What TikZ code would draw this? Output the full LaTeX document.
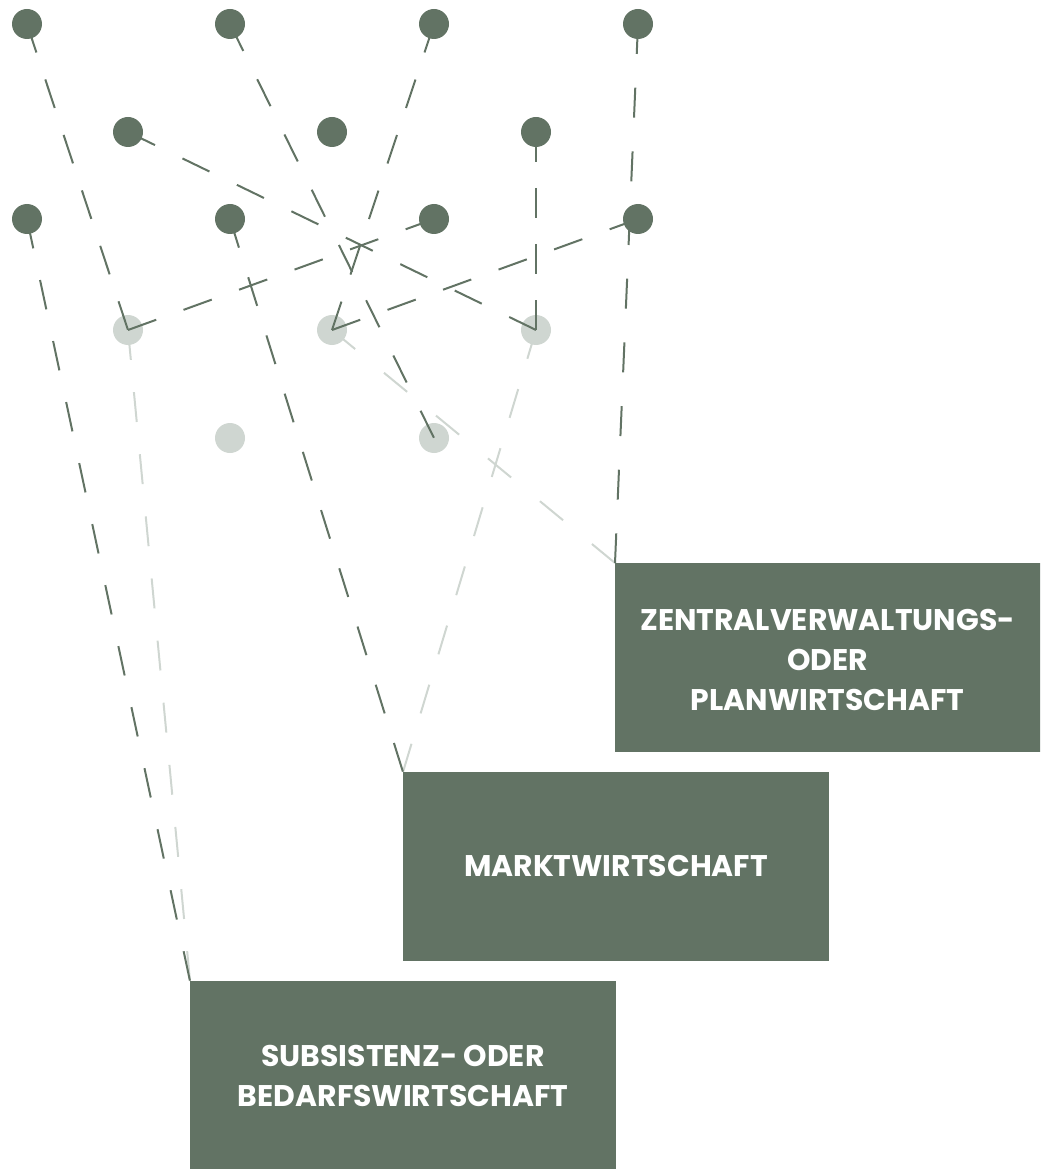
\documentclass[tikz,border=0pt]{standalone}
\usepackage{fontspec}
\setmainfont{Poppins}
\pgfdeclarelayer{lowest}
\pgfdeclarelayer{lines}
\pgfsetlayers{lowest,lines,main}
\definecolor{sage}{HTML}{627364}
\definecolor{mist}{HTML}{CFD6D1}
\tikzset{
  dot/.style={circle, fill=sage, inner sep=0pt, minimum size=22.5pt},
  faintdot/.style={circle, fill=mist, inner sep=0pt, minimum size=22.5pt},
  % dashes are 22.5pt long; the gap (in pt) is chosen per line so that
  % every line starts and ends on a full dash
  link/.style={draw=sage, line width=1.5pt, dash pattern=on 22.5pt off #1},
  faintlink/.style={draw=mist, line width=1.5pt, dash pattern=on 22.5pt off #1},
  panel/.style={fill=sage, inner sep=0pt, anchor=north west,
    minimum width=319pt, minimum height=141.75pt},
  caption/.style={text=white, inner sep=0pt, align=center,
    font=\fontsize{22.4}{30}\selectfont\bfseries}
}
\begin{document}
\begin{tikzpicture}[x=0.75pt, y=-0.75pt]
\useasboundingbox (0,0) rectangle (1040,1169);
\clip (0,0) rectangle (1040,1169);

% dark dots: rows 1 to 3
\node[dot] (a1) at (27,24) {};
\node[dot] (a2) at (230,24) {};
\node[dot] (a3) at (434,24) {};
\node[dot] (a4) at (638,24) {};
\node[dot] (b1) at (128,132) {};
\node[dot] (b2) at (332,132) {};
\node[dot] (b3) at (536,132) {};
\node[dot] (c1) at (27,219) {};
\node[dot] (c2) at (230,219) {};
\node[dot] (c3) at (434,219) {};
\node[dot] (c4) at (638,219) {};

% pale dots: rows 4 and 5
\begin{pgfonlayer}{lowest}
\node[faintdot] (d1) at (128,330) {};
\node[faintdot] (d2) at (332,330) {};
\node[faintdot] (d3) at (536,330) {};
\node[faintdot] (e1) at (230,438) {};
\node[faintdot] (e2) at (434,438) {};
\end{pgfonlayer}

% the three economic systems
\node[panel] (plan) at (615,563) {};
\node[panel] (markt) at (403,772) {};
\node[panel, minimum height=141pt] (bedarf) at (190,981) {};
\node[caption] (plantext) at (827.5,660) {ZENTRALVERWALTUNGS-\\ODER\\PLANWIRTSCHAFT};
\node[caption] (markttext) at (616,866) {MARKTWIRTSCHAFT};
\node[caption] (bedarftext) at (403,1076) {SUBSISTENZ- ODER\\BEDARFSWIRTSCHAFT};

\begin{pgfonlayer}{lines}
% pale connectors
\draw[faintlink=24.3pt] (d1.center) -- (bedarf.north west);
\draw[faintlink=28pt] (d2.center) -- (plan.north west);
\draw[faintlink=23.8pt] (d3.center) -- (markt.north west);
% dark connectors
\draw[link=21.3pt] (a1.center) -- (d1.center);
\draw[link=21.8pt] (d1.center) -- (c3.center);
\draw[link=23.7pt] (a2.center) -- (e2.center);
\draw[link=21.4pt] (a3.center) -- (d2.center);
\draw[link=25.3pt] (a4.center) -- (plan.north west);
\draw[link=22.9pt] (b1.center) -- (d3.center);
\draw[link=19.5pt] (b3.center) -- (d3.center);
\draw[link=24.3pt] (c1.center) -- (bedarf.north west);
\draw[link=23.25pt] (c2.center) -- (markt.north west);
\draw[link=21.8pt] (d2.center) -- (c4.center);
\end{pgfonlayer}
\end{tikzpicture}
\end{document}
